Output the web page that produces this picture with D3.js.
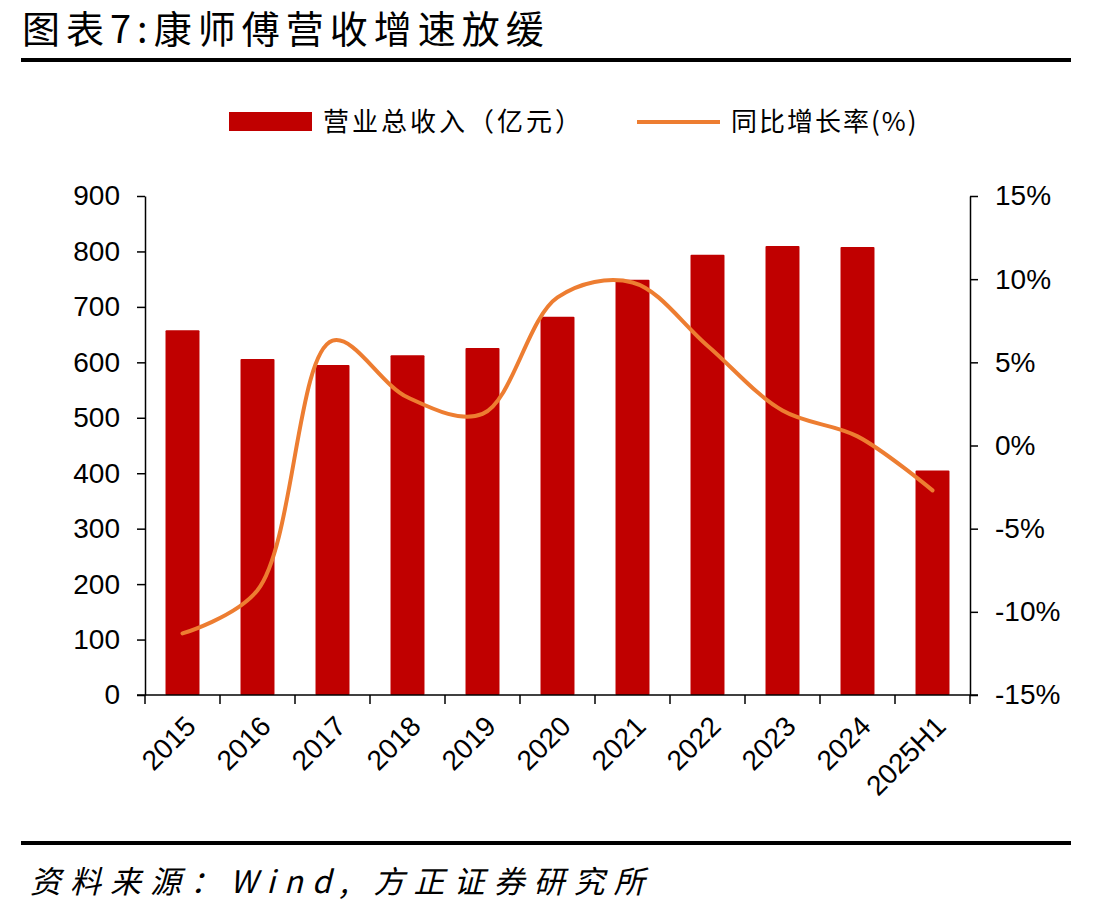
<!DOCTYPE html>
<html>
<head>
<meta charset="utf-8">
<script src="https://cdn.jsdelivr.net/npm/d3@7"></script>
<style>
  body { margin: 0; background: #fff; }
  svg { display: block; }
</style>
</head>
<body>
<div id="chart"></div>
<script>
// Datos del gráfico
const categorias = ['2015', '2016', '2017', '2018', '2019', '2020', '2021', '2022', '2023', '2024', '2025H1'];
const ingresos = [658, 606, 595, 613, 626, 682, 749, 794, 810, 808, 405];          // 亿元
const crecimiento = [-11.3, -8.7, 6.3, 2.9, 1.9, 8.9, 9.8, 6.0, 2.1, 0.55, -2.7];   // %
const ticksIzq = [0, 100, 200, 300, 400, 500, 600, 700, 800, 900];
const ticksDer = [-15, -10, -5, 0, 5, 10, 15];

const width = 1117, height = 915;
const margin = { left: 145, right: 970, top: 196, bottom: 695 };

const svg = d3.select('#chart').append('svg')
  .attr('width', width)
  .attr('height', height)
  .attr('viewBox', [0, 0, width, height]);

const cjk = '"Noto Sans CJK SC", "Noto Sans", sans-serif';
const num = '"Liberation Sans", Arial, sans-serif';

// ━━━━━━━━━━━━━━━━━━━━━━━━━━━━━━━━━━━━━━━━━━━━━━━━
// Título y reglas ////////////////////////////////
// ━━━━━━━━━━━━━━━━━━━━━━━━━━━━━━━━━━━━━━━━━━━━━━━━

svg.append('text')
  .attr('x', 22).attr('y', 43)
  .attr('font-family', cjk)
  .attr('font-size', 38)
  .attr('letter-spacing', 6)
  .attr('fill', '#000')
  .text('图表7:康师傅营收增速放缓');

svg.append('line')
  .attr('x1', 21).attr('x2', 1071).attr('y1', 60).attr('y2', 60)
  .attr('stroke', '#000').attr('stroke-width', 4);

svg.append('line')
  .attr('x1', 21).attr('x2', 1071).attr('y1', 843).attr('y2', 843)
  .attr('stroke', '#000').attr('stroke-width', 4);

svg.append('text')
  .attr('x', 30).attr('y', 893)
  .attr('font-family', cjk)
  .attr('font-size', 31)
  .attr('font-style', 'italic')
  .attr('letter-spacing', 9)
  .attr('fill', '#000')
  .text('资料来源：Wind, 方正证券研究所');

// ━━━━━━━━━━━━━━━━━━━━━━━━━━━━━━━━━━━━━━━━━━━━━━━━
// Escalas ////////////////////////////////////////
// ━━━━━━━━━━━━━━━━━━━━━━━━━━━━━━━━━━━━━━━━━━━━━━━━

const pad = 0.547;
const x = d3.scaleBand().domain(categorias)
  .range([margin.left, margin.right])
  .paddingInner(pad).paddingOuter(pad / 2);

const yL = d3.scaleLinear().domain([0, 900]).range([margin.bottom, margin.top]);
const yR = d3.scaleLinear().domain([-15, 15]).range([margin.bottom, margin.top]);

const centro = d => x(d) + x.bandwidth() / 2;

// ━━━━━━━━━━━━━━━━━━━━━━━━━━━━━━━━━━━━━━━━━━━━━━━━
// Barras /////////////////////////////////////////
// ━━━━━━━━━━━━━━━━━━━━━━━━━━━━━━━━━━━━━━━━━━━━━━━━

svg.append('g').attr('id', 'barras')
  .attr('fill', '#c00000')
  .selectAll('rect')
  .data(categorias)
  .join('rect')
  .attr('x', d => x(d))
  .attr('y', (d, i) => yL(ingresos[i]))
  .attr('width', x.bandwidth())
  .attr('height', (d, i) => yL(0) - yL(ingresos[i]))
  .attr('rx', 1);

// ━━━━━━━━━━━━━━━━━━━━━━━━━━━━━━━━━━━━━━━━━━━━━━━━
// Ejes ///////////////////////////////////////////
// ━━━━━━━━━━━━━━━━━━━━━━━━━━━━━━━━━━━━━━━━━━━━━━━━

const ejeIzq = svg.append('g')
  .attr('transform', `translate(${margin.left},0)`)
  .call(d3.axisLeft(yL).tickValues(ticksIzq).tickSize(8).tickPadding(17).tickSizeOuter(0));

const ejeDer = svg.append('g')
  .attr('transform', `translate(${margin.right},0)`)
  .call(d3.axisRight(yR).tickValues(ticksDer).tickSize(8).tickPadding(17).tickSizeOuter(0)
    .tickFormat(d => d + '%'));

[ejeIzq, ejeDer].forEach(g => {
  g.selectAll('text').attr('font-family', num).attr('font-size', 28).attr('fill', '#000');
  g.selectAll('line, path').attr('stroke', '#000').attr('stroke-width', 1.5);
});

// eje X con marcas entre categorías
const limites = d3.range(categorias.length + 1).map(i => margin.left + i * x.step());
const ejeX = svg.append('g').attr('id', 'eje-x');
ejeX.append('line')
  .attr('x1', margin.left - 8).attr('x2', margin.right + 8)
  .attr('y1', margin.bottom).attr('y2', margin.bottom)
  .attr('stroke', '#000').attr('stroke-width', 1.5);
ejeX.selectAll('line.tick')
  .data(limites)
  .join('line')
  .attr('class', 'tick')
  .attr('x1', d => d).attr('x2', d => d)
  .attr('y1', margin.bottom).attr('y2', margin.bottom + 9)
  .attr('stroke', '#000').attr('stroke-width', 1.5);
ejeX.selectAll('text')
  .data(categorias)
  .join('text')
  .attr('transform', d => `translate(${centro(d) + 8},${margin.bottom + 26}) rotate(-45)`)
  .attr('text-anchor', 'end')
  .attr('dy', '0.35em')
  .attr('font-family', num)
  .attr('font-size', 28)
  .attr('fill', '#000')
  .text(d => d);

// ━━━━━━━━━━━━━━━━━━━━━━━━━━━━━━━━━━━━━━━━━━━━━━━━
// Línea de crecimiento ///////////////////////////
// ━━━━━━━━━━━━━━━━━━━━━━━━━━━━━━━━━━━━━━━━━━━━━━━━

const linea = d3.line()
  .x((d, i) => centro(categorias[i]))
  .y(d => yR(d))
  .curve(d3.curveCatmullRom.alpha(0.5));

svg.append('path')
  .datum(crecimiento)
  .attr('d', linea)
  .attr('fill', 'none')
  .attr('stroke', '#ed7d31')
  .attr('stroke-width', 4)
  .attr('stroke-linecap', 'round');

// ━━━━━━━━━━━━━━━━━━━━━━━━━━━━━━━━━━━━━━━━━━━━━━━━
// Leyenda ////////////////////////////////////////
// ━━━━━━━━━━━━━━━━━━━━━━━━━━━━━━━━━━━━━━━━━━━━━━━━

const leyenda = svg.append('g').attr('id', 'leyenda');
leyenda.append('rect')
  .attr('x', 229).attr('y', 112).attr('width', 83).attr('height', 19)
  .attr('fill', '#c00000');
leyenda.append('text')
  .attr('x', 323).attr('y', 122).attr('dy', '0.35em')
  .attr('font-family', cjk).attr('font-size', 26).attr('letter-spacing', 3)
  .text('营业总收入（亿元）');
leyenda.append('line')
  .attr('x1', 637).attr('x2', 720).attr('y1', 122).attr('y2', 122)
  .attr('stroke', '#ed7d31').attr('stroke-width', 4);
leyenda.append('text')
  .attr('x', 731).attr('y', 122).attr('dy', '0.35em')
  .attr('font-family', cjk).attr('font-size', 26).attr('letter-spacing', 2)
  .text('同比增长率(%)');
</script>
</body>
</html>
